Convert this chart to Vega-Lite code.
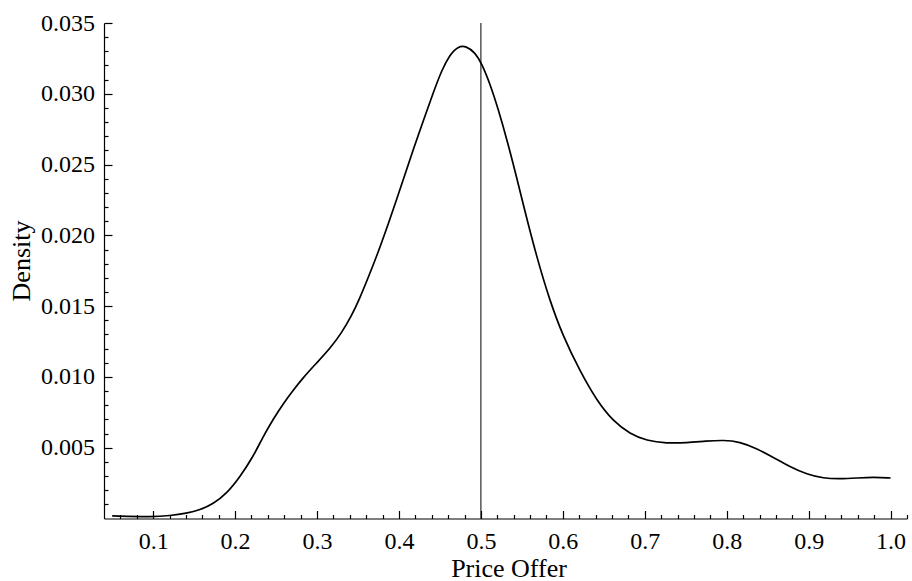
{
  "$schema": "https://vega.github.io/schema/vega-lite/v6.json",
  "autosize": {"type": "none"},
  "padding": {"left": 104, "top": 23, "right": 5, "bottom": 62.5},
  "width": 803,
  "height": 495.5,
  "background": "white",
  "config": {
    "view": {"stroke": null},
    "axis": {
      "labelFont": "Liberation Serif",
      "titleFont": "Liberation Serif",
      "labelColor": "black",
      "titleColor": "black",
      "domainColor": "black",
      "grid": false,
      "titleFontWeight": "normal"
    }
  },
  "datasets": {
    "density": [
      {"offer": 0.05, "density": 0.00018},
      {"offer": 0.1, "density": 0.00011},
      {"offer": 0.12, "density": 0.0002},
      {"offer": 0.141, "density": 0.00037},
      {"offer": 0.157, "density": 0.0006},
      {"offer": 0.173, "density": 0.00102},
      {"offer": 0.19, "density": 0.00178},
      {"offer": 0.206, "density": 0.00295},
      {"offer": 0.222, "density": 0.00436},
      {"offer": 0.234, "density": 0.00577},
      {"offer": 0.247, "density": 0.00707},
      {"offer": 0.259, "density": 0.00813},
      {"offer": 0.271, "density": 0.00907},
      {"offer": 0.283, "density": 0.00995},
      {"offer": 0.299, "density": 0.01096},
      {"offer": 0.316, "density": 0.01201},
      {"offer": 0.33, "density": 0.01312},
      {"offer": 0.342, "density": 0.01430},
      {"offer": 0.352, "density": 0.01554},
      {"offer": 0.362, "density": 0.01696},
      {"offer": 0.373, "density": 0.01855},
      {"offer": 0.385, "density": 0.02049},
      {"offer": 0.397, "density": 0.02250},
      {"offer": 0.407, "density": 0.02425},
      {"offer": 0.417, "density": 0.02600},
      {"offer": 0.43, "density": 0.02815},
      {"offer": 0.442, "density": 0.03010},
      {"offer": 0.452, "density": 0.03165},
      {"offer": 0.462, "density": 0.03275},
      {"offer": 0.472, "density": 0.03335},
      {"offer": 0.482, "density": 0.03338},
      {"offer": 0.493, "density": 0.03290},
      {"offer": 0.501, "density": 0.03213},
      {"offer": 0.511, "density": 0.03072},
      {"offer": 0.521, "density": 0.02895},
      {"offer": 0.533, "density": 0.02650},
      {"offer": 0.544, "density": 0.02400},
      {"offer": 0.552, "density": 0.02210},
      {"offer": 0.568, "density": 0.01848},
      {"offer": 0.584, "density": 0.01540},
      {"offer": 0.6, "density": 0.01290},
      {"offer": 0.621, "density": 0.01040},
      {"offer": 0.641, "density": 0.00836},
      {"offer": 0.662, "density": 0.00683},
      {"offer": 0.682, "density": 0.00598},
      {"offer": 0.702, "density": 0.00549},
      {"offer": 0.727, "density": 0.00531},
      {"offer": 0.751, "density": 0.00535},
      {"offer": 0.775, "density": 0.00547},
      {"offer": 0.796, "density": 0.00554},
      {"offer": 0.816, "density": 0.00542},
      {"offer": 0.836, "density": 0.00496},
      {"offer": 0.857, "density": 0.00432},
      {"offer": 0.877, "density": 0.00366},
      {"offer": 0.898, "density": 0.00312},
      {"offer": 0.918, "density": 0.00284},
      {"offer": 0.938, "density": 0.00279},
      {"offer": 0.959, "density": 0.00286},
      {"offer": 0.979, "density": 0.00293},
      {"offer": 1.0, "density": 0.00286}
    ],
    "marker": [{"offer": 0.5}]
  },
  "layer": [
    {
      "data": {"name": "density"},
      "mark": {"type": "line", "color": "black", "strokeWidth": 1.7, "interpolate": "basis"},
      "encoding": {
        "x": {
          "field": "offer", "type": "quantitative",
          "scale": {"domain": [0.04, 1.02], "nice": false, "zero": false},
          "axis": {
            "orient": "bottom",
            "offset": -8,
            "domain": false,
            "title": "Price Offer",
            "values": [0.1, 0.2, 0.3, 0.4, 0.5, 0.6, 0.7, 0.8, 0.9, 1.0],
            "format": ".1f",
            "labelFontSize": 24,
            "labelBaseline": "alphabetic",
            "labelPadding": 29.5,
            "labelFlush": false,
            "labelOverlap": false,
            "ticks": true,
            "tickSize": 8,
            "tickWidth": 1.2,
            "tickColor": "black",
            "titleFontSize": 26,
            "titleBaseline": "alphabetic",
            "titleAnchor": "middle",
            "titleX": 404.5,
            "titleY": 65.5
          }
        },
        "y": {
          "field": "density", "type": "quantitative",
          "scale": {"domain": [0, 0.035], "nice": false, "zero": true},
          "axis": {
            "orient": "left",
            "offset": -8,
            "domain": false,
            "title": "Density",
            "values": [0.005, 0.01, 0.015, 0.02, 0.025, 0.03, 0.035],
            "format": ".3f",
            "labelFontSize": 24,
            "labelAlign": "right",
            "labelBaseline": "middle",
            "labelPadding": 9.5,
            "labelFlush": false,
            "labelOverlap": false,
            "ticks": true,
            "tickSize": 8,
            "tickWidth": 1.2,
            "tickColor": "black",
            "titleFontSize": 26,
            "titleAngle": -90,
            "titleAlign": "center",
            "titleBaseline": "alphabetic",
            "titleAnchor": "middle",
            "titleX": -82.7,
            "titleY": 237.5
          }
        }
      }
    },
    {
      "data": {"name": "marker"},
      "mark": {"type": "rule", "color": "black", "strokeWidth": 1},
      "encoding": {
        "x": {"field": "offer", "type": "quantitative", "axis": null}
      }
    },
    {
      "data": {"name": "density"},
      "mark": {"type": "line", "strokeOpacity": 0},
      "encoding": {
        "x": {
          "field": "offer", "type": "quantitative",
          "axis": {
            "orient": "bottom",
            "offset": -4,
            "title": null,
            "labels": false,
            "domain": false,
            "ticks": true,
            "values": [0.06, 0.08, 0.12, 0.14, 0.16, 0.18, 0.22, 0.24, 0.26, 0.28, 0.32, 0.34, 0.36, 0.38, 0.42, 0.44, 0.46, 0.48, 0.52, 0.54, 0.56, 0.58, 0.62, 0.64, 0.66, 0.68, 0.72, 0.74, 0.76, 0.78, 0.82, 0.84, 0.86, 0.88, 0.92, 0.94, 0.96, 0.98, 1.02],
            "tickSize": 4,
            "tickWidth": 1.2,
            "tickColor": "black"
          }
        },
        "y": {
          "field": "density", "type": "quantitative",
          "axis": {
            "orient": "left",
            "offset": -4,
            "title": null,
            "labels": false,
            "domain": false,
            "ticks": true,
            "values": [0.001, 0.002, 0.003, 0.004, 0.006, 0.007, 0.008, 0.009, 0.011, 0.012, 0.013, 0.014, 0.016, 0.017, 0.018, 0.019, 0.021, 0.022, 0.023, 0.024, 0.026, 0.027, 0.028, 0.029, 0.031, 0.032, 0.033, 0.034],
            "tickSize": 4,
            "tickWidth": 1.2,
            "tickColor": "black"
          }
        }
      }
    },
    {
      "data": {"name": "density"},
      "mark": {"type": "line", "strokeOpacity": 0},
      "encoding": {
        "x": {
          "field": "offer", "type": "quantitative",
          "axis": {
            "orient": "bottom",
            "title": null,
            "labels": false,
            "ticks": false,
            "domain": true,
            "domainWidth": 1.2
          }
        },
        "y": {
          "field": "density", "type": "quantitative",
          "axis": {
            "orient": "left",
            "title": null,
            "labels": false,
            "ticks": false,
            "domain": true,
            "domainWidth": 1.2
          }
        }
      }
    }
  ],
  "resolve": {"axis": {"x": "independent", "y": "independent"}}
}
